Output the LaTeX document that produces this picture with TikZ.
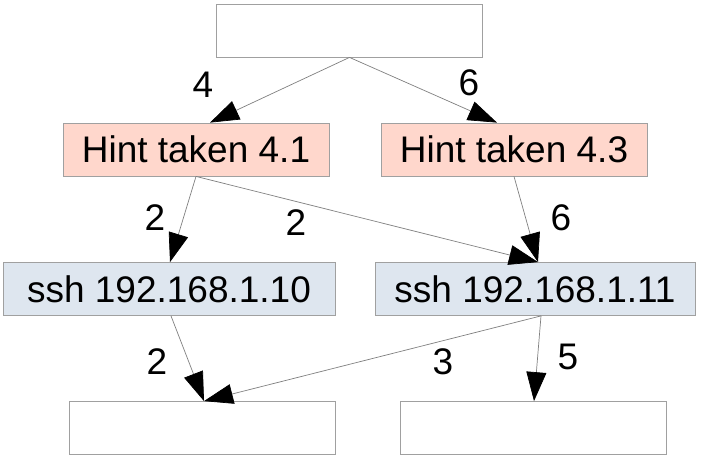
\documentclass[tikz,border=0pt]{standalone}
\usepackage{fontspec}
\setmainfont{Liberation Sans}
\usetikzlibrary{arrows.meta}
\definecolor{hintfill}{RGB}{255,215,204}
\definecolor{sshfill}{RGB}{222,230,239}
\definecolor{boxline}{RGB}{160,160,160}
\definecolor{edgeline}{RGB}{128,128,128}
\tikzset{
  box/.style={draw=boxline, line width=0.8pt, inner sep=0pt, minimum width=266pt, minimum height=53pt, font=\fontsize{37}{40}\selectfont, text=black},
  hintbox/.style={box, fill=hintfill},
  sshbox/.style={box, fill=sshfill},
  emptybox/.style={box, fill=white},
  edge/.style={draw=edgeline, line width=0.7pt, -{Triangle[length=29pt,width=20pt,color=black,fill=black]}},
  lbl/.style={font=\fontsize{37}{40}\selectfont, inner sep=0pt, text=black}
}
\begin{document}
\begin{tikzpicture}[x=1pt,y=-1pt]
\useasboundingbox[fill=white] (0,0) rectangle (707,456);
\node[emptybox] (top) at (349.5,30.5) {};
\node[hintbox] (h41) at (196,149.5) {Hint taken 4.1};
\node[hintbox] (h43) at (514,149.5) {Hint taken 4.3};
\node[sshbox, minimum width=332pt] (s10) at (169,289) {ssh 192.168.1.10};
\node[sshbox, minimum width=320pt] (s11) at (535,289) {ssh 192.168.1.11};
\node[emptybox] (bl) at (202.5,428) {};
\node[emptybox] (br) at (533.5,428) {};
\draw[edge] (top.south) -- ([xshift=14pt]h41.north);
\draw[edge] (top.south) -- ([xshift=-17pt]h43.north);
\draw[edge] (h41.south) -- ([xshift=1pt]s10.north);
\draw[edge] (h41.south) -- ([xshift=3pt]s11.north);
\draw[edge] (h43.south) -- ([xshift=3pt]s11.north);
\draw[edge] ([xshift=2pt]s10.south) -- ([xshift=1.5pt]bl.north);
\draw[edge] ([xshift=6pt]s11.south) -- ([xshift=1.5pt]bl.north);
\draw[edge] ([xshift=6pt]s11.south) -- ([xshift=0.5pt]br.north);
\node[lbl] (l1) at (203,85) {4};
\node[lbl] (l2) at (469,83) {6};
\node[lbl] (l3) at (155,218) {2};
\node[lbl] (l4) at (296,223) {2};
\node[lbl] (l5) at (561,218) {6};
\node[lbl] (l6) at (157,362) {2};
\node[lbl] (l7) at (443,362) {3};
\node[lbl] (l8) at (568,357) {5};
\end{tikzpicture}
\end{document}
